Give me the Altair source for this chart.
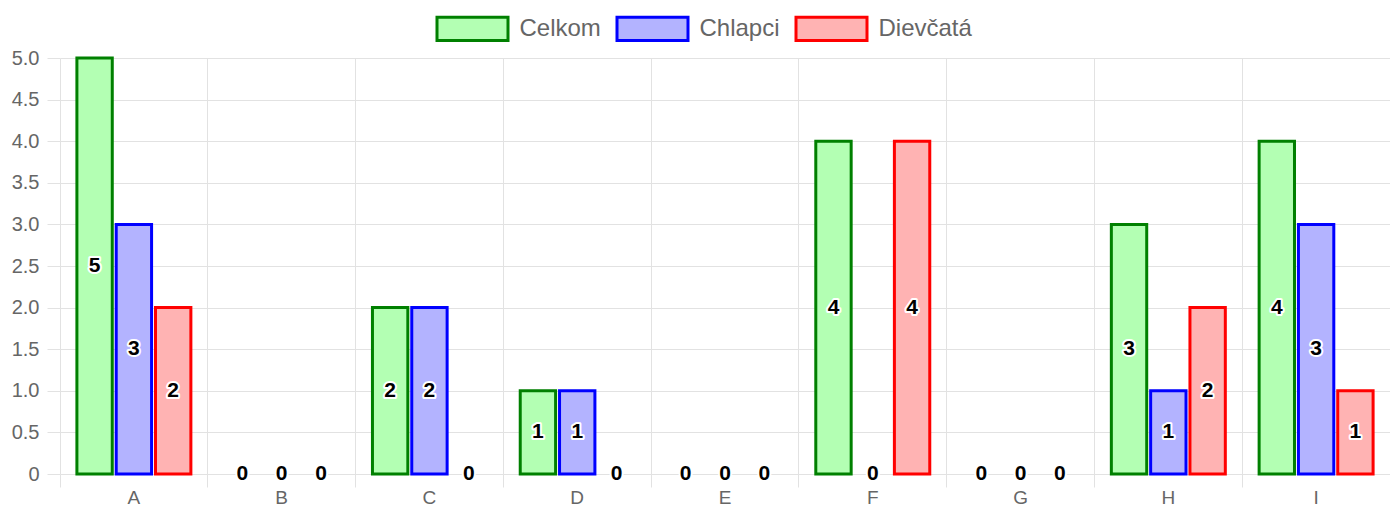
import altair as alt
import pandas as pd

categories = ["A", "B", "C", "D", "E", "F", "G", "H", "I"]
series = ["Celkom", "Chlapci", "Dievčatá"]
celkom = [5, 0, 2, 1, 0, 4, 0, 3, 4]
chlapci = [3, 0, 2, 1, 0, 0, 0, 1, 3]
dievcata = [2, 0, 0, 0, 0, 4, 0, 2, 1]
fills = ["#b3ffb3", "#b3b3ff", "#ffb3b3"]
strokes = ["#008000", "#0000ff", "#ff0000"]
y_ticks = [0, 0.5, 1, 1.5, 2, 2.5, 3, 3.5, 4, 4.5, 5]

rows = []
for s, vals in zip(series, [celkom, chlapci, dievcata]):
    for c, v in zip(categories, vals):
        rows.append({"cat": c, "series": s, "value": v, "mid": v / 2})
df = pd.DataFrame(rows)

W, H = 1330, 416
FONT = "Liberation Sans"
GRID = "#e2e2e2"

x_enc = alt.X(
    "cat:N",
    sort=categories,
    scale=alt.Scale(paddingInner=0, paddingOuter=0),
    axis=alt.Axis(
        title=None,
        bandPosition=0,
        grid=True,
        gridColor=GRID,
        tickColor=GRID,
        tickSize=13,
        domain=False,
        labelAngle=0,
        labelFont=FONT,
        labelFontSize=19,
        labelColor="#666666",
        labelBaseline="alphabetic",
        labelPadding=16,
    ),
)
xo_enc = alt.XOffset(
    "series:N",
    sort=series,
    scale=alt.Scale(domain=series, paddingInner=0.1, paddingOuter=0.43),
)

legend_props = dict(
    title=None,
    orient="none",
    legendX=375.5,
    legendY=-66.3,
    direction="horizontal",
    symbolType="M-1,-0.33H1V0.33H-1Z",
    symbolSize=5041,
    symbolStrokeWidth=3,
    labelFont=FONT,
    labelFontSize=24,
    labelColor="#666666",
    labelOffset=10,
    columnPadding=9,
)

bars = alt.Chart(df).transform_filter("datum.value > 0").mark_bar(strokeWidth=3).encode(
    x=x_enc,
    xOffset=xo_enc,
    y=alt.Y(
        "value:Q",
        scale=alt.Scale(domain=[0, 5], nice=False),
        axis=alt.Axis(
            title=None,
            values=y_ticks,
            labelExpr="datum.value == 0 ? '0' : format(datum.value, '.1f')",
            grid=True,
            gridColor=GRID,
            tickColor=GRID,
            tickSize=13,
            domain=False,
            labelFont=FONT,
            labelFontSize=20,
            labelColor="#666666",
            labelPadding=8,
        ),
    ),
    fill=alt.Fill("series:N", scale=alt.Scale(domain=series, range=fills), legend=alt.Legend(**legend_props)),
    stroke=alt.Stroke("series:N", scale=alt.Scale(domain=series, range=strokes), legend=alt.Legend(**legend_props)),
)

label_base = alt.Chart(df).encode(
    x=alt.X("cat:N", sort=categories),
    xOffset=alt.XOffset("series:N", sort=series),
    y=alt.Y("mid:Q"),
    text=alt.Text("value:Q"),
)
halo = label_base.mark_text(font=FONT, fontSize=21, fontWeight="bold", stroke="white", strokeWidth=4, strokeJoin="round", baseline="middle", align="center", fill="white")
labels = label_base.mark_text(font=FONT, fontSize=21, fontWeight="bold", fill="black", baseline="middle", align="center")

chart = alt.layer(bars, halo, labels).properties(
    width=W,
    height=H,
    padding={"left": 52, "top": 50, "right": 0, "bottom": 32},
    autosize=alt.AutoSizeParams(type="none"),
).configure_view(stroke=None).configure_axis(gridWidth=1)

chart.save("out.html", embed_options={"renderer": "svg", "actions": False})
